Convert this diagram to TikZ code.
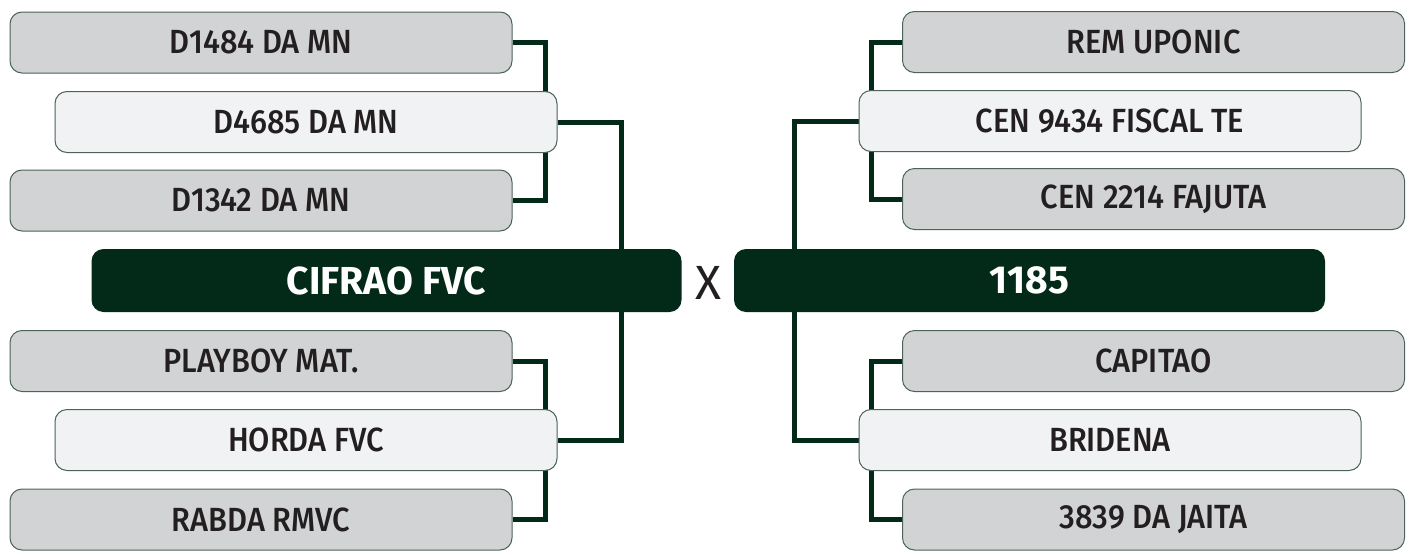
\documentclass[tikz,border=0pt]{standalone}
\usepackage{fontspec}
\setmainfont{Fira Sans}
\newfontfamily\labelfont{Fira Sans}[UprightFont=* Medium, FakeStretch=0.92]
\usetikzlibrary{backgrounds}
\definecolor{boxgray}{HTML}{D1D3D4}
\definecolor{boxlight}{HTML}{F1F2F3}
\definecolor{boxedge}{HTML}{4B6358}
\definecolor{darkgreen}{HTML}{032A18}
\definecolor{txtdark}{HTML}{231F20}
\tikzset{
  team/.style={draw=boxedge, line width=1pt, rounded corners=12pt, minimum width=502pt, minimum height=61pt, inner sep=0pt, text=txtdark, font=\labelfont\fontsize{33.5}{33.5}\selectfont},
  teamgray/.style={team, fill=boxgray},
  teamlight/.style={team, fill=boxlight},
  final/.style={fill=darkgreen, rounded corners=12pt, minimum height=63pt, inner sep=0pt, text=white, font=\fontsize{39}{39}\selectfont\bfseries},
  link/.style={draw=darkgreen, line width=5pt}
}
\begin{document}
\begin{tikzpicture}[x=1pt,y=-1pt]
\useasboundingbox (0,0) rectangle (1415,554);
% left column
\node[teamgray]  (d1484)  at (261,42.5)  {D1484 DA MN};
\node[teamlight] (d4685)  at (306,122)   {D4685 DA MN};
\node[teamgray]  (d1342)  at (261,200.5) {D1342 DA MN};
\node[final, minimum width=590pt] (cifrao) at (386.5,280.5) {CIFRAO FVC};
\node[teamgray]  (playboy) at (261,361)  {PLAYBOY MAT.};
\node[teamlight] (horda)   at (306,440)  {HORDA FVC};
\node[teamgray]  (rabda)   at (261,519.5) {RABDA RMVC};
% vs
\node[font=\fontsize{48}{48}\selectfont, text=txtdark, inner sep=0pt] (vs) at (708.5,282.5) {X};
% right column
\node[teamgray]  (rem)     at (1153.5,42)  {REM UPONIC};
\node[teamlight] (cen9434) at (1110,121)   {CEN 9434 FISCAL TE};
\node[teamgray]  (cen2214) at (1153.5,199) {CEN 2214 FAJUTA};
\node[final, minimum width=591pt] (n1185) at (1029.5,280.5) {1185};
\node[teamgray]  (capitao) at (1153.5,361) {CAPITAO};
\node[teamlight] (bridena) at (1110,440)   {BRIDENA};
\node[teamgray]  (j3839)   at (1153.5,519.5) {3839 DA JAITA};
\begin{scope}[on background layer]
\draw[link] (d1484.east) -- ++(33,0) |- (d1342.east);
\draw[link] (d4685.east) -- ++(64,0) |- (horda.east);
\draw[link] (playboy.east) -- ++(33,0) |- (rabda.east);
\draw[link] (rem.west) -- ++(-31,0) |- (cen2214.west);
\draw[link] (cen9434.west) -- ++(-64,0) |- (bridena.west);
\draw[link] (capitao.west) -- ++(-31,0) |- (j3839.west);
\end{scope}
\end{tikzpicture}
\end{document}
